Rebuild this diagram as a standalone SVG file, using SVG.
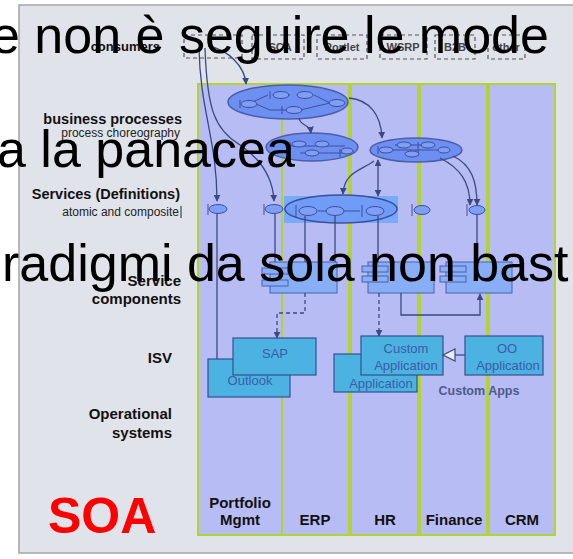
<svg xmlns="http://www.w3.org/2000/svg" width="573" height="559" viewBox="0 0 573 559">
<defs>
<style>
.sans{font-family:"Liberation Sans",Arial,sans-serif}
.lbl{font-family:"Liberation Sans",Arial,sans-serif;font-weight:bold;font-size:15px;fill:#111;text-anchor:end}
.sub{font-family:"Liberation Sans",Arial,sans-serif;font-size:12px;fill:#222;text-anchor:end}
.col{fill:#b8bcf4;stroke:#b3d233;stroke-width:2}
.colname{font-family:"Liberation Sans",Arial,sans-serif;font-weight:bold;font-size:15px;fill:#111;text-anchor:middle}
.cons{fill:none;stroke:#555;stroke-width:1.2;stroke-dasharray:4 3}
.constxt{font-family:"Liberation Sans",Arial,sans-serif;font-weight:bold;font-size:11px;fill:#444;text-anchor:middle}
.bp{fill:#6d8ff2;stroke:#4b5dab;stroke-width:1.5}
.ic{fill:#7f9ef5;stroke:#3e4f9a;stroke-width:1}
.icl{stroke:#3e4f9a;stroke-width:1;fill:none}
.comp{fill:#88aff6;stroke:#4a5fb0;stroke-width:1}
.isv{fill:#4cb2e2;stroke:#34508f;stroke-width:1.2}
.isvt{font-family:"Liberation Sans",Arial,sans-serif;font-size:13px;fill:#3b5ca6;text-anchor:middle}
.ln{fill:none;stroke:#3a4a80;stroke-width:1.3}
.big{font-family:"Liberation Sans",Arial,sans-serif;font-size:52px;fill:#000}
</style>
<marker id="ah" viewBox="0 0 10 10" refX="9" refY="5" markerWidth="7" markerHeight="7" orient="auto-start-reverse" markerUnits="userSpaceOnUse">
<path d="M0,0 L10,5 L0,10 z" fill="#3a4a80"/>
</marker>
</defs>
<rect x="0" y="0" width="573" height="559" fill="#ffffff"/>
<rect x="19" y="5" width="560" height="548" fill="#e1e3ea" stroke="#a5a5a8" stroke-width="1.5"/>

<g id="layer-labels">
<text class="lbl" x="160" y="51" style="font-size:13px">consumers</text>
<text class="lbl" x="182" y="124" style="font-size:14.5px">business processes</text>
<text class="sub" x="180" y="137">process choreography</text>
<text class="lbl" x="180" y="199" style="font-size:14.5px">Services (Definitions)</text>
<text class="sub" x="179" y="216">atomic and composite</text>
<line x1="181" y1="206" x2="181" y2="218" stroke="#222" stroke-width="1"/>
<text class="lbl" x="181" y="286">Service</text>
<text class="lbl" x="181" y="304">components</text>
<text class="lbl" x="172" y="363">ISV</text>
<text class="lbl" x="172" y="419">Operational</text>
<text class="lbl" x="172" y="438">systems</text>
<text class="sans" x="48" y="533" style="font-weight:bold;font-size:50px;fill:#ff0000">SOA</text>
</g>

<g id="columns">
<g id="col-portfolio"><rect class="col" x="198" y="84" width="84" height="451"/><text class="colname" x="240" y="508">Portfolio</text><text class="colname" x="240" y="525">Mgmt</text></g>
<g id="col-erp"><rect class="col" x="282" y="84" width="67" height="451"/><text class="colname" x="315" y="525">ERP</text></g>
<g id="col-hr"><rect class="col" x="351" y="84" width="67" height="451"/><text class="colname" x="385" y="525">HR</text></g>
<g id="col-finance"><rect class="col" x="420" y="84" width="67" height="451"/><text class="colname" x="454" y="525">Finance</text></g>
<g id="col-crm"><rect class="col" x="489" y="84" width="66" height="451"/><text class="colname" x="522" y="525">CRM</text></g>
</g>

<g id="consumers">
<g id="c-first"><rect class="cons" x="184" y="35" width="58" height="23"/></g>
<g id="c-sca"><rect class="cons" x="252" y="35" width="52" height="24"/><text class="constxt" x="280" y="51">SCA</text></g>
<g id="c-portlet"><rect class="cons" x="317" y="35" width="50" height="24"/><text class="constxt" x="342" y="51">Portlet</text></g>
<g id="c-wsrp"><rect class="cons" x="380" y="35" width="47" height="24"/><text class="constxt" x="403" y="51">WSRP</text></g>
<g id="c-b2b"><rect class="cons" x="435" y="35" width="40" height="24"/><text class="constxt" x="455" y="51">B2B</text></g>
<g id="c-other"><rect class="cons" x="488" y="35" width="37" height="24"/><text class="constxt" x="506" y="51">other</text></g>
</g>

<g id="bp1">
<ellipse class="bp" cx="288" cy="102" rx="60" ry="17"/>
<path class="icl" d="M248,104 L268,95 M256,104 L270,110 L290,110 M276,95 L290,95 M314,95 L330,103 M300,110 L330,103"/>
<line class="icl" x1="240" y1="100" x2="240" y2="108"/><ellipse class="ic" cx="249" cy="104" rx="8" ry="3.5"/>
<line class="icl" x1="270" y1="91" x2="270" y2="99"/><ellipse class="ic" cx="281" cy="95" rx="8" ry="3.5"/>
<ellipse class="ic" cx="305" cy="95" rx="8" ry="3.5"/>
<line class="icl" x1="282" y1="106" x2="282" y2="114"/><ellipse class="ic" cx="294" cy="110" rx="8" ry="3.5"/>
<ellipse class="ic" cx="337" cy="103" rx="8" ry="3.5"/>
</g>
<g id="bp2">
<ellipse class="bp" cx="312" cy="147" rx="46" ry="14"/>
<path class="icl" d="M285,146 L345,146 M300,153 L345,153"/>
<line class="icl" x1="290" y1="142" x2="290" y2="150"/><ellipse class="ic" cx="299" cy="144" rx="7" ry="3"/>
<ellipse class="ic" cx="322" cy="144" rx="7" ry="3"/>
<ellipse class="ic" cx="312" cy="153" rx="7" ry="3"/>
<line class="icl" x1="340" y1="149" x2="340" y2="157"/><ellipse class="ic" cx="347" cy="151" rx="6" ry="3"/>
</g>
<g id="bp3">
<ellipse class="bp" cx="416" cy="150" rx="46" ry="12"/>
<path class="icl" d="M386,150 L445,150 M395,145 L435,145"/>
<line class="icl" x1="378" y1="146" x2="378" y2="154"/><ellipse class="ic" cx="386" cy="150" rx="7" ry="3"/>
<ellipse class="ic" cx="404" cy="145" rx="7" ry="3"/>
<ellipse class="ic" cx="428" cy="145" rx="7" ry="3"/>
<line class="icl" x1="418" y1="142" x2="418" y2="156"/>
<ellipse class="ic" cx="412" cy="154" rx="7" ry="3"/>
<ellipse class="ic" cx="444" cy="150" rx="6" ry="3"/>
</g>

<g id="svc-portfolio"><line class="icl" x1="208" y1="204" x2="208" y2="215"/><ellipse class="ic" cx="218" cy="209" rx="9" ry="4.5"/></g>
<g id="svc-erp"><line class="icl" x1="264" y1="204" x2="264" y2="215"/><ellipse class="ic" cx="274" cy="209" rx="9" ry="4.5"/></g>
<g id="svc-composite">
<rect x="284" y="196" width="114" height="27" fill="#78abff"/>
<ellipse cx="341" cy="209" rx="56" ry="14" fill="#6f9cf6" stroke="#3e4f9a" stroke-width="1.5"/>
<path class="icl" d="M318,211 L327,211 M343,211 L360,211"/>
<line class="icl" x1="296" y1="205" x2="296" y2="217"/><ellipse class="ic" cx="308" cy="211" rx="9" ry="4.5"/>
<ellipse class="ic" cx="335" cy="211" rx="9" ry="4.5"/>
<line class="icl" x1="362" y1="205" x2="362" y2="217"/><ellipse class="ic" cx="375" cy="211" rx="9" ry="4.5"/>
</g>
<g id="svc-hr"><line class="icl" x1="412" y1="204" x2="412" y2="216"/><ellipse class="ic" cx="422" cy="210" rx="8" ry="4.5"/></g>
<g id="svc-finance"><line class="icl" x1="467" y1="204" x2="467" y2="216"/><ellipse class="ic" cx="477" cy="210" rx="8" ry="4.5"/></g>

<g id="comp-erp"><rect class="comp" x="270" y="262" width="67" height="31"/><rect class="comp" x="262" y="268" width="26" height="6"/><rect class="comp" x="262" y="280" width="26" height="6"/></g>
<g id="comp-hr"><rect class="comp" x="368" y="262" width="66" height="31"/><rect class="comp" x="362" y="266" width="26" height="6"/><rect class="comp" x="362" y="276" width="26" height="6"/></g>
<g id="comp-finance"><rect class="comp" x="446" y="262" width="66" height="31"/><rect class="comp" x="440" y="266" width="26" height="6"/><rect class="comp" x="440" y="276" width="26" height="6"/></g>

<g id="outlook"><rect class="isv" x="208" y="359" width="82" height="38"/><text class="isvt" x="250" y="385">Outlook</text></g>
<g id="sap"><rect class="isv" x="233" y="338" width="83" height="37"/><text class="isvt" x="275" y="358">SAP</text></g>
<g id="hr-app"><rect class="isv" x="334" y="354" width="83" height="38"/><text class="isvt" x="381" y="388">Application</text></g>
<g id="custom-app"><rect class="isv" x="361" y="336" width="82" height="39"/><text class="isvt" x="406" y="353">Custom</text><text class="isvt" x="406" y="370">Application</text></g>
<g id="oo-app"><rect class="isv" x="465" y="336" width="78" height="39"/><text class="isvt" x="507" y="353">OO</text><text class="isvt" x="508" y="370">Application</text></g>
<g id="custom-apps-label"><text class="isvt" x="479" y="395" style="font-weight:bold;font-size:12.5px;fill:#4f5a8a">Custom Apps</text></g>

<g id="connectors">
<path class="ln" d="M199,48 C200,110 217,140 217,201" marker-end="url(#ah)"/>
<path class="ln" d="M205,48 C207,110 215,130 240,145 C262,160 273,178 274,201" marker-end="url(#ah)"/>
<path class="ln" d="M208,46 C230,50 245,68 246,84" marker-end="url(#ah)"/>
<path class="ln" d="M299,118 C300,126 310,124 311,133" marker-end="url(#ah)"/>
<path class="ln" d="M349,98 C370,100 381,115 382,138" marker-end="url(#ah)"/>
<path class="ln" d="M378,160 L378,196" marker-start="url(#ah)" marker-end="url(#ah)"/>
<path class="ln" d="M374,161 C362,170 344,172 343,194" marker-end="url(#ah)"/>
<path class="ln" d="M440,158 C460,168 470,182 470,205" marker-end="url(#ah)"/>
<path class="ln" d="M453,156 C472,165 477,182 477,205" marker-end="url(#ah)"/>
<path class="ln" d="M217,214 L217,359"/>
<path class="ln" d="M275,214 L275,262"/>
<path class="ln" d="M305,216 L305,262"/>
<path class="ln" d="M335,216 L335,262"/>
<path class="ln" d="M378,216 L378,262"/>
<path class="ln" d="M477,215 L477,262"/>
<path class="ln" d="M305,293 L305,313 L277,313 L277,338" stroke-width="2" stroke-dasharray="4 3" marker-end="url(#ah)"/>
<path class="ln" d="M379,293 L379,336" stroke-width="2" stroke-dasharray="4 3" marker-end="url(#ah)"/>
<path class="ln" d="M401,293 L401,315 L480,315 L480,294" stroke-width="1.8" marker-end="url(#ah)"/>
<path class="ln" d="M465,355 L455,355"/>
<polygon points="443,355 455,349 455,361" fill="#e8ecff" stroke="#3a4a80" stroke-width="1.2"/>
</g>

<g id="overlay-text">
<text class="big" x="-9" y="53">e non è seguire le mode</text>
<text class="big" x="-3" y="167">a la panacea</text>
<text class="big" x="2" y="281">radigmi da sola non bast</text>
</g>
</svg>
